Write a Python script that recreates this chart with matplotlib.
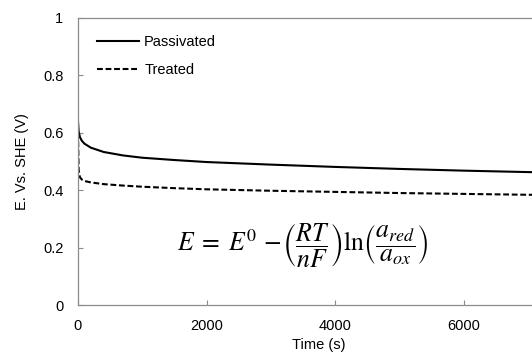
import numpy as np
import matplotlib
matplotlib.use('Agg')
import matplotlib.pyplot as plt

# ------------------------------------------------------------------
# data
# ------------------------------------------------------------------
time_s = [0, 10, 30, 60, 100, 200, 400, 700, 1000, 1500, 2000,
          3000, 4000, 5000, 6000, 7000, 7500]
passivated = [0.640, 0.605, 0.585, 0.572, 0.562, 0.548, 0.533, 0.521,
              0.513, 0.505, 0.498, 0.489, 0.481, 0.474, 0.468, 0.463, 0.461]
treated = [0.600, 0.470, 0.445, 0.437, 0.432, 0.427, 0.421, 0.416,
           0.412, 0.407, 0.403, 0.398, 0.394, 0.390, 0.387, 0.384, 0.383]

x_ticks = [0, 2000, 4000, 6000]
y_ticks = [0, 0.2, 0.4, 0.6, 0.8, 1.0]
y_tick_labels = ['0', '0.2', '0.4', '0.6', '0.8', '1']

plt.rcParams['font.family'] = ['Liberation Sans', 'DejaVu Sans']
plt.rcParams['mathtext.fontset'] = 'stix'

fig = plt.figure(figsize=(5.32, 3.54), dpi=100)
ax = fig.add_axes([0.1466, 0.1384, 0.906, 0.811])

ax.plot(time_s, passivated, color='black', lw=1.5, label='Passivated')
ax.plot(time_s, treated, color='black', lw=1.5, ls=(0, (2.8, 1.3)), label='Treated')

ax.set_xlim(0, 7500)
ax.set_ylim(0, 1)
ax.set_xticks(x_ticks)
ax.set_xticklabels([str(t) for t in x_ticks])
ax.set_yticks(y_ticks)
ax.set_yticklabels(y_tick_labels)

for s in ax.spines.values():
    s.set_color('#8c8c8c')
    s.set_linewidth(0.9)
ax.tick_params(direction='in', length=3.5, width=0.8, color='#8c8c8c',
               labelsize=10.5)
ax.tick_params(axis='y', pad=10.5)
ax.tick_params(axis='x', pad=10)

ax.set_xlabel('Time (s)', fontsize=10.5, labelpad=4)
ax.set_ylabel('E. Vs. SHE (V)', fontsize=10.5, labelpad=10)

ax.legend(loc='upper left', frameon=False, fontsize=10.5, handlelength=2.9,
          handletextpad=0.35, labelspacing=0.95, borderaxespad=0,
          borderpad=0, bbox_to_anchor=(0.039, 0.94))

ax.text(0.467, 0.205,
        r'$E\;=\;E^{0}\,-\!\left(\dfrac{RT}{nF}\right)\ln\!\left(\dfrac{a_{red}}{a_{ox}}\right)$',
        transform=ax.transAxes, fontsize=18.5, ha='center', va='center')

fig.savefig('out.png', dpi=100)
